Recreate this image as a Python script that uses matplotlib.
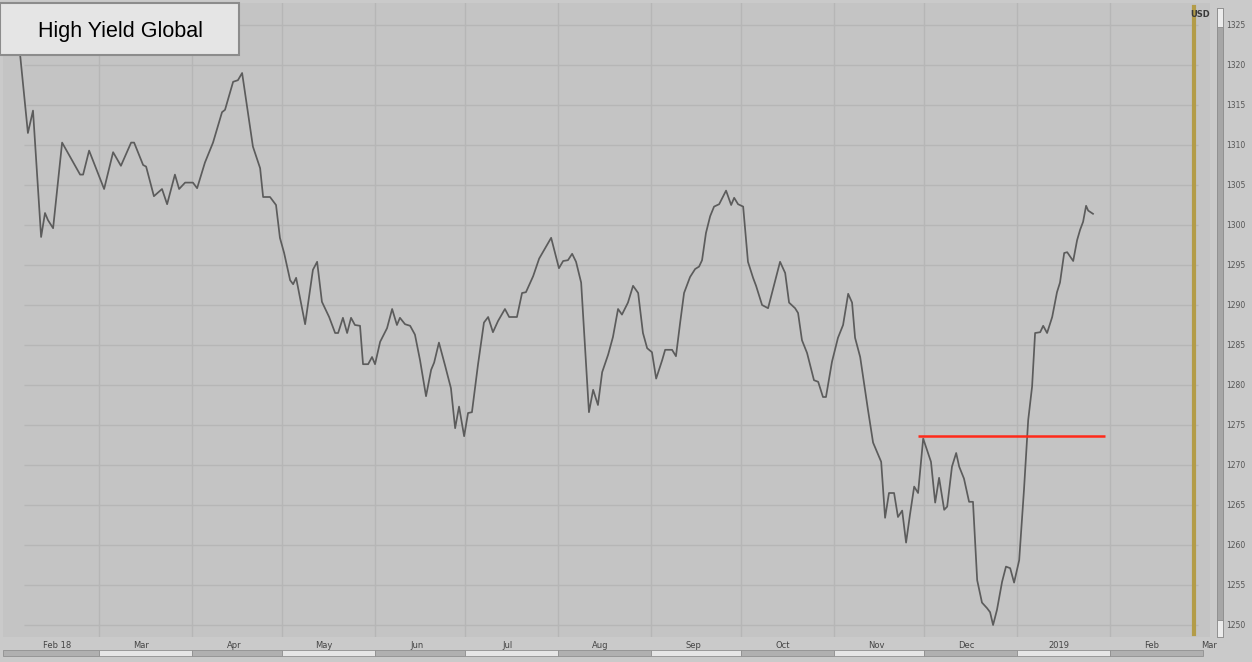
import datetime as dt
import matplotlib
matplotlib.use('Agg')
import matplotlib.pyplot as plt
import matplotlib.dates as mdates
from matplotlib.patches import Rectangle

# Data: days counted from 1 Feb 2018, index level
START = dt.datetime(2018, 2, 1)
days = [0.7, 1.7, 4.3, 6.0, 8.7, 10.0, 11.0, 12.7, 15.7, 21.7, 22.7, 24.7, 29.7, 32.7, 35.3,
        38.7, 39.7, 42.7, 43.7, 46.3, 49.0, 50.7, 53.3, 54.7, 56.7, 59.3, 60.7, 63.3, 66.0,
        69.0, 70.0, 72.7, 74.3, 75.7, 79.3, 81.7, 82.7, 85.0, 87.0, 88.3, 89.7, 91.7, 92.7,
        93.7, 96.7, 99.3, 100.7, 102.3, 104.7, 106.7, 107.7, 109.3, 110.7, 112.0, 113.3,
        115.0, 116.0, 117.7, 119.0, 120.0, 121.7, 124.0, 125.7, 127.3, 128.3, 130.0, 131.7,
        133.3, 135.0, 137.0, 138.7, 139.7, 141.3, 143.3, 145.3, 146.7, 148.0, 149.7, 151.0,
        152.3, 154.3, 156.3, 157.7, 159.3, 161.0, 163.3, 164.7, 167.3, 169.0, 170.3, 172.7,
        174.7, 178.7, 181.3, 182.7, 184.3, 185.7, 187.0, 188.7, 190.0, 191.3, 192.7, 194.3,
        195.7, 197.7, 199.3, 201.0, 202.3, 204.3, 206.0, 207.7, 209.3, 210.7, 212.3, 213.7,
        215.7, 216.7, 219.0, 220.3, 221.7, 223.0, 225.0, 226.7, 228.0, 229.0, 230.3, 231.7,
        233.0, 234.7, 237.0, 238.7, 239.7, 241.0, 242.7, 244.3, 246.0, 247.0, 249.0, 251.0,
        255.0, 256.7, 258.0, 260.0, 261.0, 262.3, 264.0, 266.3, 267.7, 269.3, 270.3, 272.3,
        274.3, 276.0, 277.7, 279.0, 280.0, 281.7, 283.3, 284.3, 286.0, 287.0, 288.7, 290.0,
        291.3, 293.0, 294.3, 295.7, 297.0, 298.3, 299.7, 301.0, 302.7, 305.3, 306.7, 308.0,
        309.7, 310.7, 312.3, 313.7, 314.7, 316.3, 318.0, 319.3, 320.7, 322.3, 324.0, 325.0,
        326.0, 327.3, 329.0, 330.3, 331.7, 333.0, 334.7, 336.3, 337.7, 339.0, 340.0, 341.7,
        342.7, 344.0, 345.7, 347.3, 348.3, 349.7, 350.7, 352.7, 354.0, 355.0, 356.0, 357.0,
        357.7, 359.3]
values = [1323.0, 1321.3, 1311.5, 1314.3, 1298.5, 1301.5, 1300.6, 1299.6, 1310.3, 1306.3,
          1306.3, 1309.3, 1304.5, 1309.1, 1307.4, 1310.3, 1310.3, 1307.5, 1307.3, 1303.6,
          1304.5, 1302.6, 1306.3, 1304.5, 1305.3, 1305.3, 1304.6, 1307.8, 1310.3, 1314.1,
          1314.4, 1317.9, 1318.1, 1319.0, 1309.8, 1307.1, 1303.5, 1303.5, 1302.5, 1298.4,
          1296.5, 1293.1, 1292.6, 1293.4, 1287.6, 1294.4, 1295.4, 1290.4, 1288.5, 1286.5,
          1286.5, 1288.4, 1286.5, 1288.4, 1287.5, 1287.4, 1282.6, 1282.6, 1283.5, 1282.6,
          1285.4, 1287.1, 1289.5, 1287.5, 1288.4, 1287.6, 1287.4, 1286.3, 1283.1, 1278.6,
          1281.9, 1282.8, 1285.3, 1282.5, 1279.6, 1274.6, 1277.3, 1273.6, 1276.5, 1276.6,
          1282.5, 1287.8, 1288.5, 1286.6, 1288.0, 1289.5, 1288.5, 1288.5, 1291.5, 1291.6,
          1293.6, 1295.8, 1298.4, 1294.6, 1295.5, 1295.6, 1296.4, 1295.4, 1292.8, 1284.8,
          1276.6, 1279.4, 1277.5, 1281.6, 1283.8, 1286.0, 1289.5, 1288.8, 1290.3, 1292.4,
          1291.5, 1286.5, 1284.6, 1284.1, 1280.8, 1283.1, 1284.4, 1284.4, 1283.6, 1287.8,
          1291.5, 1293.5, 1294.5, 1294.8, 1295.6, 1299.0, 1301.1, 1302.3, 1302.6, 1304.3,
          1302.5, 1303.4, 1302.6, 1302.3, 1295.4, 1293.4, 1292.4, 1290.0, 1289.6, 1295.4,
          1294.0, 1290.3, 1289.6, 1289.0, 1285.6, 1284.0, 1280.6, 1280.4, 1278.5, 1278.5,
          1282.9, 1285.9, 1287.5, 1291.4, 1290.3, 1285.9, 1283.5, 1279.4, 1276.9, 1272.8,
          1271.9, 1270.4, 1263.4, 1266.5, 1266.5, 1263.5, 1264.3, 1260.3, 1263.8, 1267.3,
          1266.5, 1273.3, 1270.4, 1265.3, 1268.4, 1264.4, 1264.8, 1269.8, 1271.5, 1269.8,
          1268.3, 1265.4, 1265.4, 1255.6, 1252.8, 1252.1, 1251.6, 1250.0, 1251.9, 1255.4,
          1257.3, 1257.1, 1255.3, 1258.1, 1266.9, 1275.6, 1279.8, 1286.5, 1286.6, 1287.4,
          1286.5, 1288.5, 1291.6, 1292.8, 1296.5, 1296.6, 1295.5, 1298.1, 1299.4, 1300.4,
          1302.4, 1301.8, 1301.4]

resistance_level = 1273.6
resistance_days = [301.0, 363.3]
marker_day = 393.0  # 1 Mar 2019
y_ticks = list(range(1250, 1330, 5))
month_starts = [dt.datetime(2018, m, 1) for m in range(3, 13)] + \
               [dt.datetime(2019, 1, 1), dt.datetime(2019, 2, 1)]
label_dates = [dt.datetime(2018, m, 15) for m in range(2, 13)] + \
              [dt.datetime(2019, 1, 15), dt.datetime(2019, 2, 15), dt.datetime(2019, 3, 6)]
month_labels = ['Feb 18', 'Mar', 'Apr', 'May', 'Jun', 'Jul', 'Aug', 'Sep', 'Oct',
                'Nov', 'Dec', '2019', 'Feb', 'Mar']

W, H = 1252, 662
BG = '#c4c4c4'
GRID = '#b6b6b6'


def fx(px):
    return px / W


def fy(py):
    return 1 - py / H


def to_num(d):
    return mdates.date2num(START) + d


fig = plt.figure(figsize=(W / 100, H / 100), dpi=100, facecolor='#cacaca')
ax = fig.add_axes([fx(3), fy(637), fx(1210) - fx(3), fy(3) - fy(637)])
ax.set_facecolor(BG)
for s in ax.spines.values():
    s.set_visible(False)

x = [to_num(d) for d in days]
ax.set_xlim(to_num(-4), to_num(398.3))
ax.set_ylim(1248.5, 1327.75)

# grid
ax.hlines(y_ticks, to_num(3), to_num(394.3), color=GRID, lw=1.0, zorder=1)
for d in month_starts:
    ax.axvline(mdates.date2num(d), color=GRID, lw=1.0, zorder=1)

# series
ax.plot(x, values, color='#5c5c5c', lw=1.25, zorder=3)
ax.hlines(resistance_level, to_num(resistance_days[0]), to_num(resistance_days[1]),
          color='#ff2a1a', lw=1.8, zorder=4)
ax.axvline(to_num(marker_day), ymin=0.005, ymax=0.994, color='#b39c48', lw=3, zorder=2)
ax.text(to_num(marker_day) + 2, 1326.3, 'USD', fontsize=6, color='#3a3a3a',
        ha='center', va='center', fontweight='bold')

# y axis on the right
ax.yaxis.tick_right()
ax.set_yticks(y_ticks)
ax.set_yticklabels([str(v) for v in y_ticks])
ax.tick_params(axis='y', length=0, pad=12, labelsize=5.5, labelcolor='#555555')

# month labels
ax.set_xticks([mdates.date2num(d) for d in label_dates])
ax.set_xticklabels(month_labels)
ax.tick_params(axis='x', length=0, pad=3, labelsize=6, labelcolor='#444444')

# right scroll bar
fig.patches.append(Rectangle((fx(1217), fy(637)), fx(6), fy(8) - fy(637),
                             transform=fig.transFigure, facecolor='#a6a6a6',
                             edgecolor='#8a8a8a', lw=0.6, zorder=0))
fig.patches.append(Rectangle((fx(1217), fy(27)), fx(6), fy(8) - fy(27),
                             transform=fig.transFigure, facecolor='#ececec',
                             edgecolor='#8a8a8a', lw=0.6, zorder=0))
fig.patches.append(Rectangle((fx(1217), fy(637)), fx(6), fy(620) - fy(637),
                             transform=fig.transFigure, facecolor='#ececec',
                             edgecolor='#8a8a8a', lw=0.6, zorder=0))

# bottom scroll band, one segment per month
edges = [-4] + [(mdates.date2num(d) - mdates.date2num(START)) for d in month_starts] + [396]
for i in range(len(edges) - 1):
    x0 = 15 + edges[i] * 3
    x1 = 15 + edges[i + 1] * 3
    col = '#b0b0b0' if i % 2 == 0 else '#e6e6e6'
    fig.patches.append(Rectangle((fx(x0), fy(656)), fx(x1 - x0), fy(650) - fy(656),
                                 transform=fig.transFigure, facecolor=col,
                                 edgecolor='#909090', lw=0.6))

# title box
fig.patches.append(Rectangle((fx(0), fy(55)), fx(239), fy(3) - fy(55),
                             transform=fig.transFigure, facecolor='#e5e5e5',
                             edgecolor='#8c8c8c', lw=1.5, zorder=5))
fig.text(fx(120), fy(31), 'High Yield Global', fontsize=15.5, color='black',
         family=['Liberation Sans Narrow', 'Liberation Sans', 'DejaVu Sans'],
         ha='center', va='center', zorder=6)

fig.savefig('out.png', dpi=100, facecolor=fig.get_facecolor())
